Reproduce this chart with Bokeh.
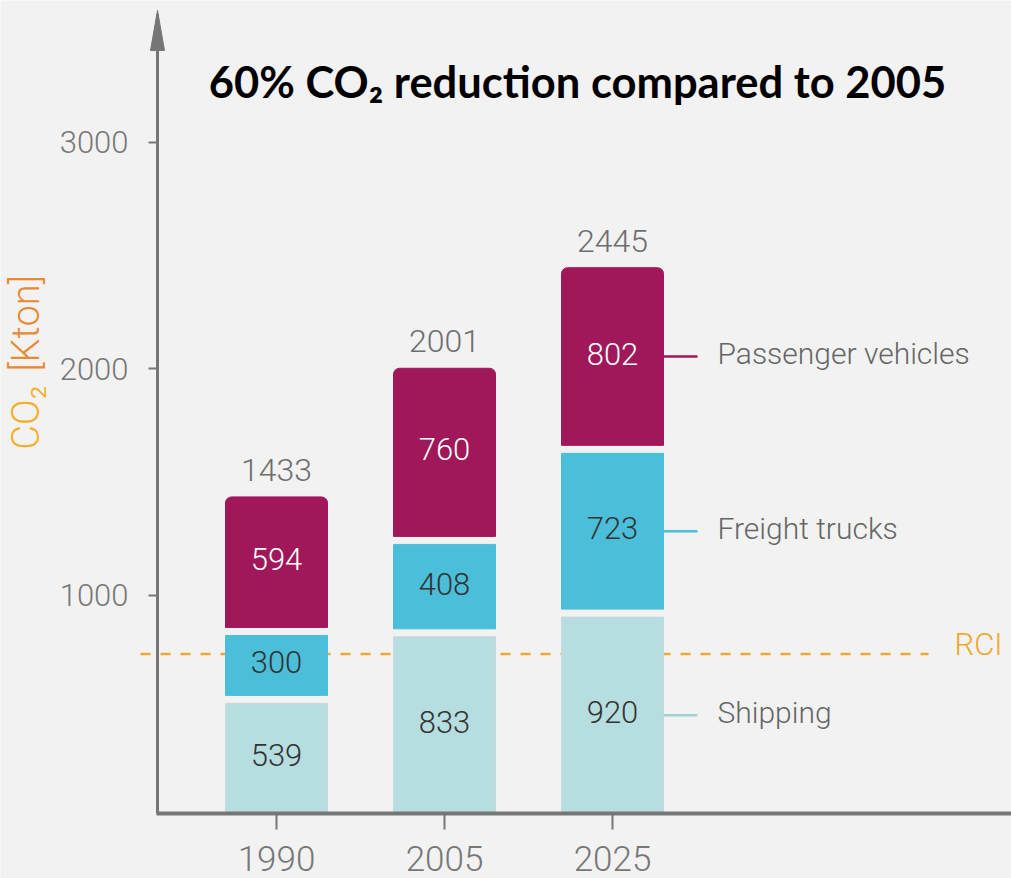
from bokeh.plotting import figure
from bokeh.models import Range1d, FixedTicker, ColumnDataSource
from bokeh.core.properties import value
from bokeh.embed import file_html
from bokeh.resources import INLINE
import math

# ---------------- data ----------------
years = ["1990", "2005", "2025"]
shipping = [539, 833, 920]
freight = [300, 408, 723]
passenger = [594, 760, 802]
totals = [1433, 2001, 2445]
series_names = ["Shipping", "Freight trucks", "Passenger vehicles"]
rci_value = 740
rci_label = "RCI"
y_ticks = [1000, 2000, 3000]
title_text = "60% CO\u2082 reduction compared to 2005"
y_title_gas = "CO\u2082"
y_title_unit = "[Kton]"

# ---------------- style ----------------
BG = "#F2F2F2"
AXIS = "#767676"
FILL = ["#B6DEE0", "#4BBED9", "#A1185A"]
LEADER = ["#9FD3D8", "#4BBED9", "#A1185A"]
VALUE_TEXT = ["#333333", "#333333", "#FFFFFF"]
ORANGE = "#F0A830"
NUMFONT = "Roboto Light, Roboto"

W, H = 1011, 878
AXIS_Y_PX = 813          # x axis line
AXIS_X_PX = 157          # y axis line
PX_X = 168.0             # px per category step
PX_Y = 0.2265            # px per kton
x0 = -276 / PX_X
yb = (821 - AXIS_Y_PX) / PX_Y   # data value at the x axis line


def xr(px):
    return x0 + px / PX_X


def yr(py):
    return yb + (AXIS_Y_PX - py) / PX_Y


p = figure(width=W, height=H,
           x_range=Range1d(x0, xr(W)),
           y_range=Range1d(yr(H), yr(0)),
           output_backend="svg", toolbar_location=None,
           min_border=0, min_border_left=0, min_border_right=0,
           min_border_top=0, min_border_bottom=0,
           background_fill_color=BG, border_fill_color=BG,
           outline_line_color=None)
p.grid.visible = False

# x axis (inside the frame)
xa = p.xaxis[0]
xa.fixed_location = yb
xa.ticker = FixedTicker(ticks=list(range(len(years))))
xa.major_label_overrides = {i: y for i, y in enumerate(years)}
xa.bounds = (xr(AXIS_X_PX - 1), xr(W))
xa.axis_line_color = AXIS
xa.axis_line_width = 4
xa.major_tick_line_color = AXIS
xa.major_tick_line_width = 2
xa.major_tick_in = 0
xa.major_tick_out = 16
xa.minor_tick_line_color = None
xa.major_label_standoff = 16
xa.major_label_text_font = NUMFONT
xa.major_label_text_font_size = "35px"
xa.major_label_text_color = "#777777"

# y axis (inside the frame)
ya = p.yaxis[0]
ya.fixed_location = xr(AXIS_X_PX)
ya.bounds = (yb, yr(14))
ya.ticker = FixedTicker(ticks=y_ticks)
ya.axis_line_color = AXIS
ya.axis_line_width = 3
ya.major_tick_line_color = AXIS
ya.major_tick_line_width = 2
ya.major_tick_in = 0
ya.major_tick_out = 9
ya.minor_tick_line_color = None
ya.major_label_standoff = 20
ya.major_label_text_font = NUMFONT
ya.major_label_text_font_size = "31px"
ya.major_label_text_color = "#777777"

# arrow head on top of y axis
p.patch(x=[xr(AXIS_X_PX - 7), xr(AXIS_X_PX + 7), xr(AXIS_X_PX)], y=[yr(50), yr(50), yr(10)],
        fill_color=AXIS, line_color=AXIS)

# RCI dashed line (drawn before bars so it sits underneath)
p.segment(x0=[xr(140)], y0=[rci_value], x1=[xr(928)], y1=[rci_value],
          line_color=ORANGE, line_width=2.5, line_dash="10 10")

# stacked bars with small gaps
gap = 4 / PX_Y
bw = 102 / PX_X
xs = list(range(len(years)))
bottoms = [
    [yb for _ in shipping],
    [s + gap for s in shipping],
    [s + f + gap for s, f in zip(shipping, freight)],
]
tops = [
    [s - gap for s in shipping],
    [s + f - gap for s, f in zip(shipping, freight)],
    list(totals),
]
labels = [shipping, freight, passenger]

for k in range(3):
    src = ColumnDataSource(dict(x=xs, bottom=bottoms[k], top=tops[k]))
    if k == 2:
        p.vbar(x="x", bottom="bottom", top="top", width=bw, source=src,
               fill_color=FILL[k], line_color=FILL[k], border_radius=(6, 6, 0, 0))
    else:
        p.vbar(x="x", bottom="bottom", top="top", width=bw, source=src,
               fill_color=FILL[k], line_color="#C8D8DA" if k == 0 else FILL[k], line_width=1)
    mids = [(b + t) / 2 for b, t in zip(bottoms[k], tops[k])]
    p.text(x=xs, y=mids, text=[str(v) for v in labels[k]],
           text_font=value(NUMFONT), text_font_size=value("31px"),
           text_color=VALUE_TEXT[k], text_align="center", text_baseline="middle", y_offset=-3)

# totals above bars
p.text(x=xs, y=totals, text=[str(t) for t in totals], text_font=value(NUMFONT),
       text_font_size=value("32px"), text_color="#6E6E6E", text_align="center",
       text_baseline="middle", y_offset=-27)

# right-side series labels with leader lines (at last bar)
last = len(years) - 1
lead_x0 = last + bw / 2
lead_x1 = lead_x0 + 34 / PX_X
for k in range(3):
    ym = (bottoms[k][last] + tops[k][last]) / 2
    p.segment(x0=[lead_x0], y0=[ym], x1=[lead_x1], y1=[ym], line_color=LEADER[k], line_width=2.5)
    p.text(x=[xr(717)], y=[ym], text=[series_names[k]], text_font=value(NUMFONT),
           text_font_size=value("30px"), text_color="#666666", text_align="left",
           text_baseline="middle", y_offset=-3)

# RCI label
p.text(x=[xr(954)], y=[rci_value], text=[rci_label], text_font=value(NUMFONT),
       text_font_size=value("31px"), text_color=ORANGE, text_align="left",
       text_baseline="middle", y_offset=-9)

# title
p.text(x=[xr(577)], y=[yr(80)], text=[title_text], text_font=value("Lato"),
       text_font_size=value("43.5px"), text_font_style="bold", text_color="#000000",
       text_align="center", text_baseline="middle")

# y title (rotated, two colours)
split = yr(378)
p.text(x=[xr(25)], y=[split - 7 / PX_Y], text=[y_title_gas], angle=math.pi / 2,
       text_font=value(NUMFONT), text_font_size=value("38px"), text_color="#F5AE28",
       text_align="right", text_baseline="middle")
p.text(x=[xr(25)], y=[split + 7 / PX_Y], text=[y_title_unit], angle=math.pi / 2,
       text_font=value(NUMFONT), text_font_size=value("38px"), text_color="#E88A30",
       text_align="left", text_baseline="middle")

open("out.html", "w").write(file_html(p, INLINE))
